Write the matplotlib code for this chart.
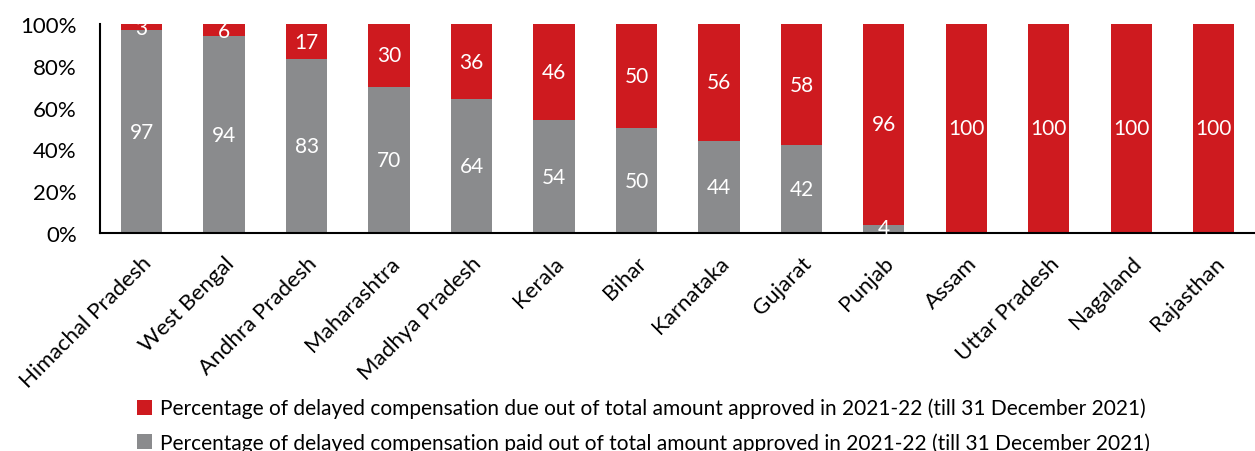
import numpy as np
import matplotlib.pyplot as plt

states = ['Himachal Pradesh', 'West Bengal', 'Andhra Pradesh', 'Maharashtra',
          'Madhya Pradesh', 'Kerala', 'Bihar', 'Karnataka', 'Gujarat', 'Punjab',
          'Assam', 'Uttar Pradesh', 'Nagaland', 'Rajasthan']
paid = [97, 94, 83, 70, 64, 54, 50, 44, 42, 4, 0, 0, 0, 0]
due = [3, 6, 17, 30, 36, 46, 50, 56, 58, 96, 100, 100, 100, 100]

red = '#CE1A1F'
grey = '#8A8B8D'

plt.rcParams['font.family'] = ['Lato', 'DejaVu Sans']

fig = plt.figure(figsize=(12.55, 4.52), dpi=100)
ax = fig.add_axes([0.08, 0.482, 0.92, 0.463])

x = np.arange(len(states))
b1 = ax.bar(x, paid, width=0.5, color=grey)
b2 = ax.bar(x, due, width=0.5, bottom=paid, color=red)

# value labels in the middle of each segment
for i in range(len(states)):
    if paid[i] > 0:
        y = paid[i] / 2 if paid[i] > 10 else paid[i] / 2 + 0.5
        ax.text(x[i], y, str(paid[i]), ha='center', va='center', color='white', fontsize=15)
    if due[i] > 0:
        y = paid[i] + due[i] / 2 if due[i] > 10 else paid[i] + due[i] / 2 - 0.5
        ax.text(x[i], y, str(due[i]), ha='center', va='center', color='white', fontsize=15)

ax.set_xlim(-0.5, len(states) - 0.5)
ax.set_ylim(0, 100)
ax.set_yticks(range(0, 101, 20))
ax.set_yticklabels([f'{v}%' for v in range(0, 101, 20)], fontsize=16)
ax.set_xticks(x)
ax.set_xticklabels(states, rotation=45, ha='right', rotation_mode='anchor', fontsize=16)
ax.tick_params(axis='y', length=0, pad=17)
ax.tick_params(axis='x', length=0, pad=14)
for s in ['top', 'right']:
    ax.spines[s].set_visible(False)
ax.spines['left'].set_linewidth(1.5)
ax.spines['bottom'].set_linewidth(1.5)

fig.legend([b2, b1],
           ['Percentage of delayed compensation due out of total amount approved in 2021-22 (till 31 December 2021)',
            'Percentage of delayed compensation paid out of total amount approved in 2021-22 (till 31 December 2021)'],
           loc='lower left', bbox_to_anchor=(0.094, -0.045), frameon=False, fontsize=15,
           handlelength=0.75, handleheight=0.75, handletextpad=0.35, labelspacing=0.65)

fig.savefig('out.png', dpi=100)
